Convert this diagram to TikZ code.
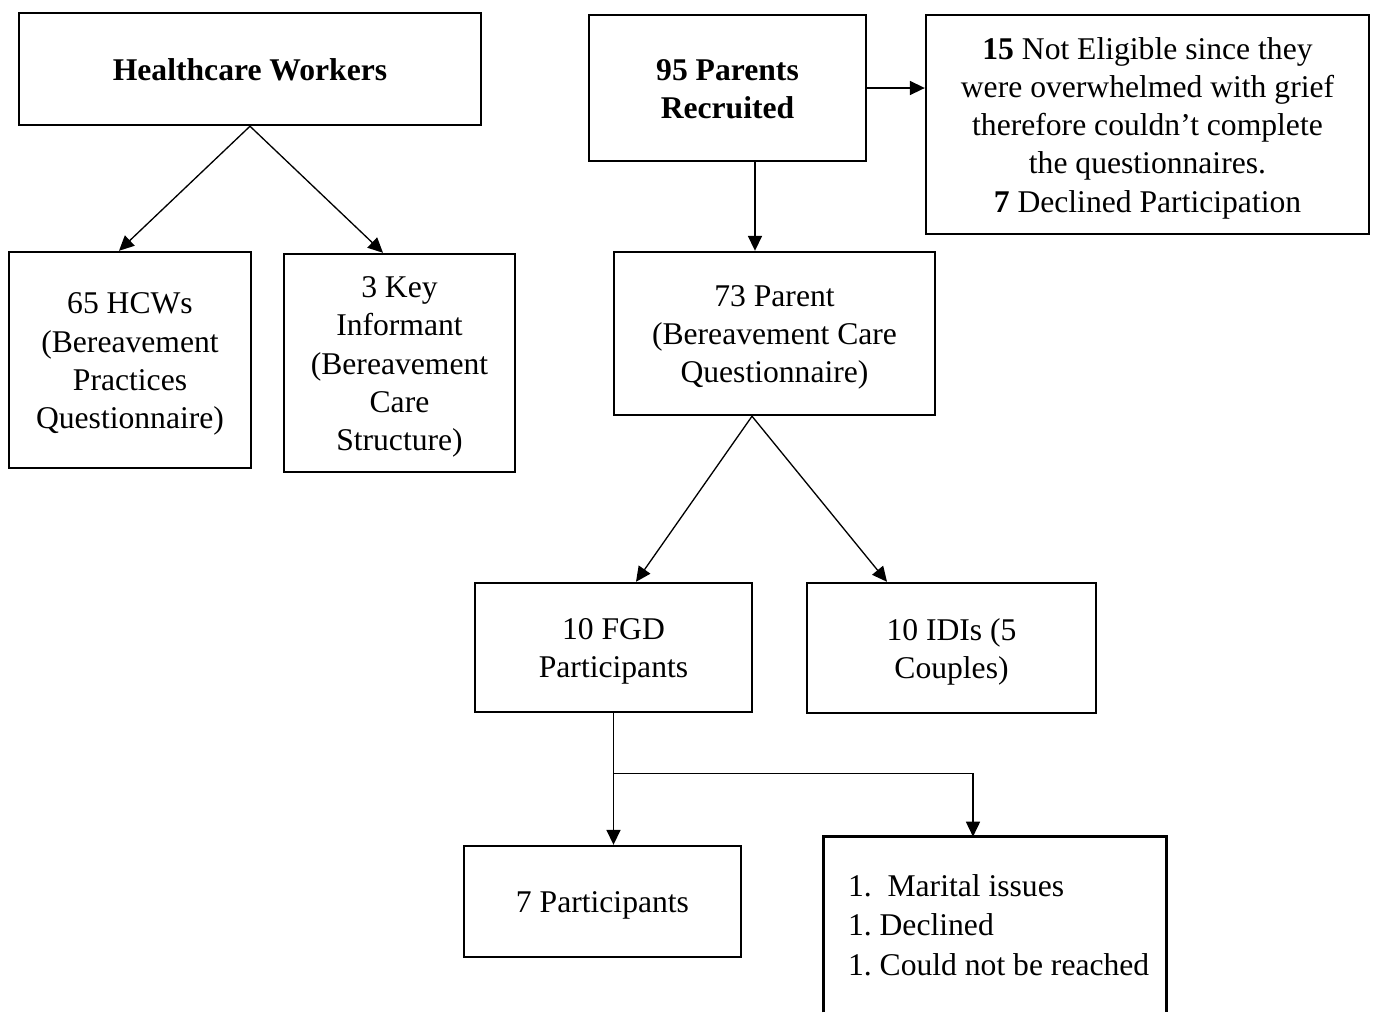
\documentclass[tikz,border=0pt]{standalone}
\usepackage{fontspec}
\setmainfont{Liberation Serif}
\frenchspacing
\usepackage{tikz}
\usetikzlibrary{arrows.meta, positioning}
\newcommand{\boxlines}[2][c]{\raisebox{-2pt}[\height][\depth]{\begin{tabular}{@{}#1@{}}#2\end{tabular}}}
\tikzstyle{box} = [rectangle,
inner sep=0pt,
text centered,
line width=1.4pt,
draw=black,
font=\fontsize{18}{21.8}\selectfont]
\tikzstyle{frame} = [rectangle,
inner sep=0pt]
\tikzstyle{listtext} = [inner sep=0pt,
anchor=west,
font=\fontsize{18}{22.5}\selectfont]
\tikzstyle{arrow} = [line width=0.75pt,-{Triangle[length=8.5pt,width=8pt]}]

\begin{document}
\begin{tikzpicture}[x=0.02cm, y=-0.02cm]
                \useasboundingbox (0,0) rectangle (1377,1012);
                % healthcare workers side
                \node (hw) [box, minimum width=9.24cm, minimum height=2.24cm] at (250,69) {\boxlines{\textbf{Healthcare Workers}}};
                \node (hcw) [box, minimum width=4.84cm, minimum height=4.32cm] at (130,360) {\boxlines{65 HCWs\\(Bereavement\\Practices\\Questionnaire)}};
                \node (keyinf) [box, minimum width=4.62cm, minimum height=4.36cm] at (399.5,363) {\boxlines{3 Key\\Informant\\(Bereavement\\Care\\Structure)}};

                % parents side
                \node (parents) [box, minimum width=5.54cm, minimum height=2.92cm] at (727.5,88) {\boxlines{\textbf{95 Parents}\\\textbf{Recruited}}};
                \node (excluded) [box, minimum width=8.86cm, minimum height=4.38cm] at (1147.5,124.5) {\boxlines{\textbf{15} Not Eligible since they\\were overwhelmed with grief\\therefore couldn’t complete\\the questionnaires.\\\textbf{7} Declined Participation}};
                \node (parent) [box, minimum width=6.42cm, minimum height=3.26cm] at (774.5,333.5) {\boxlines{73 Parent\\(Bereavement Care\\Questionnaire)}};
                \node (fgd) [box, minimum width=5.54cm, minimum height=2.58cm] at (613.5,647.5) {\boxlines{10 FGD\\Participants}};
                \node (idi) [box, minimum width=5.78cm, minimum height=2.60cm] at (951.5,648) {\boxlines{10 IDIs (5\\Couples)}};
                \node (seven) [box, minimum width=5.54cm, minimum height=2.22cm] at (602.5,901.5) {\boxlines{7 Participants}};
                \node (reasons) [frame, minimum width=6.84cm, minimum height=3.5cm] at (995,924.5) {};
                \node (reasonstext) [listtext] at ([xshift=0.48cm]reasons.west) {\boxlines[l]{1.~ Marital issues\\1. Declined\\1. Could not be reached}};
                \draw[line width=1.4pt] (reasons.south west) |- (reasons.north east) -- (reasons.south east);

                \coordinate (pdown) at ([xshift=0.55cm]parents.south);
                \coordinate (split) at ([yshift=-1.2cm]fgd.south);
                \coordinate (rtop) at ([xshift=-0.44cm]reasons.north);

                \draw [arrow] (hw.south) -- ([xshift=-0.22cm]hcw.north);
                \draw [arrow] (hw.south) -- ([xshift=-0.33cm]keyinf.north);
                \draw [arrow] (parents.east) -- (parents.east -| excluded.west);
                \draw [arrow] (pdown) -- (pdown |- parent.north);
                \draw [arrow] ([xshift=-0.45cm]parent.south) -- ([xshift=0.45cm]fgd.north);
                \draw [arrow] ([xshift=-0.45cm]parent.south) -- ([xshift=-1.29cm]idi.north);
                \draw [arrow] (fgd.south) -- (fgd.south |- seven.north);
                \draw [arrow] (split) -| (rtop);
            \end{tikzpicture}
\end{document}
